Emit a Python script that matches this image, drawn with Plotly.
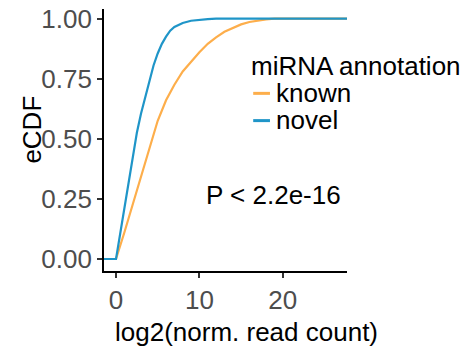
import plotly.graph_objects as go

# eCDF values
known_x = [-1.6, 0, 1, 2, 3, 4, 5, 6, 7, 8, 9, 10, 11, 12, 13, 14, 15, 16, 17, 18, 19, 28]
known_y = [0, 0, 0.11, 0.225, 0.345, 0.465, 0.575, 0.66, 0.725, 0.78, 0.822, 0.86, 0.895,
           0.922, 0.945, 0.962, 0.976, 0.986, 0.993, 0.997, 1.0, 1.0]

novel_x = [-1.6, 0, 0.5, 1, 1.5, 2, 2.5, 3, 3.5, 4, 4.5, 5, 5.5, 6, 6.5, 7, 8, 9, 10, 11, 12, 28]
novel_y = [0, 0, 0.105, 0.215, 0.32, 0.425, 0.525, 0.605, 0.67, 0.745, 0.805, 0.855, 0.895,
           0.925, 0.95, 0.965, 0.982, 0.991, 0.996, 0.998, 1.0, 1.0]

series_names = ["known", "novel"]
x_ticks = [0, 10, 20]
y_ticks = [0, 0.25, 0.5, 0.75, 1.0]
y_ticklabels = ["0.00", "0.25", "0.50", "0.75", "1.00"]

FONT = "Liberation Sans, Arial, Helvetica, sans-serif"
ORANGE = "#FDAE4B"
BLUE = "#1F95C8"
FS = 26

fig = go.Figure()
fig.add_trace(go.Scatter(x=known_x, y=known_y, mode="lines", name=series_names[0],
                         line=dict(color=ORANGE, width=2.2), showlegend=False))
fig.add_trace(go.Scatter(x=novel_x, y=novel_y, mode="lines", name=series_names[1],
                         line=dict(color=BLUE, width=2.2), showlegend=False))

# legend (drawn as text + short key lines, ggplot style)
legend_annots = [
    dict(text="miRNA annotation", x=0.601, y=0.786),
    dict(text=series_names[0], x=0.705, y=0.681),
    dict(text=series_names[1], x=0.705, y=0.580),
]
shapes = []
for yk, col in [(0.678, ORANGE), (0.574, BLUE)]:
    shapes.append(dict(type="line", xref="paper", yref="paper", x0=0.614, x1=0.683,
                       y0=yk, y1=yk, line=dict(color=col, width=3)))

annots = []
for a in legend_annots:
    annots.append(dict(text=a["text"], x=a["x"], y=a["y"], xref="paper", yref="paper",
                       showarrow=False, font=dict(size=FS, color="black"),
                       xanchor="left", yanchor="middle", height=25, valign="middle",
                       borderpad=0))
annots += [
    dict(text="P < 2.2e-16", x=18.9, y=0.267, xref="x", yref="y",
         showarrow=False, font=dict(size=FS, color="black"),
         xanchor="center", yanchor="middle"),
    dict(text="log2(norm. read count)", x=0.588, y=-0.233, xref="paper", yref="paper",
         showarrow=False, font=dict(size=FS, color="black"),
         xanchor="center", yanchor="middle"),
    dict(text="eCDF", x=-0.30, y=0.54, xref="paper", yref="paper", textangle=-90,
         showarrow=False, font=dict(size=FS, color="black"),
         xanchor="center", yanchor="middle"),
]

fig.update_layout(
    width=469, height=348,
    margin=dict(l=104, r=122, t=9, b=77, autoexpand=False),
    paper_bgcolor="white", plot_bgcolor="white",
    font=dict(family=FONT, size=FS, color="black"),
    showlegend=False,
    xaxis=dict(
        range=[-1.44, 27.7], tickvals=x_ticks, showgrid=False, zeroline=False,
        showline=True, linecolor="black", linewidth=1.8, automargin=False,
        ticks="outside", ticklen=5, tickwidth=1.5, tickcolor="#333333",
        tickfont=dict(size=FS, color="#4d4d4d"), ticklabelstandoff=0,
    ),
    yaxis=dict(
        range=[-0.05, 1.04], tickvals=y_ticks, ticktext=y_ticklabels,
        showgrid=False, zeroline=False, automargin=False,
        showline=True, linecolor="black", linewidth=1.8,
        ticks="outside", ticklen=5, tickwidth=1.5, tickcolor="#333333",
        tickfont=dict(size=FS, color="#4d4d4d"),
    ),
    shapes=shapes,
    annotations=annots,
)

fig.write_html("out.html", config={"displayModeBar": False},
               post_script="document.body.style.margin='0';document.body.style.padding='0';")
